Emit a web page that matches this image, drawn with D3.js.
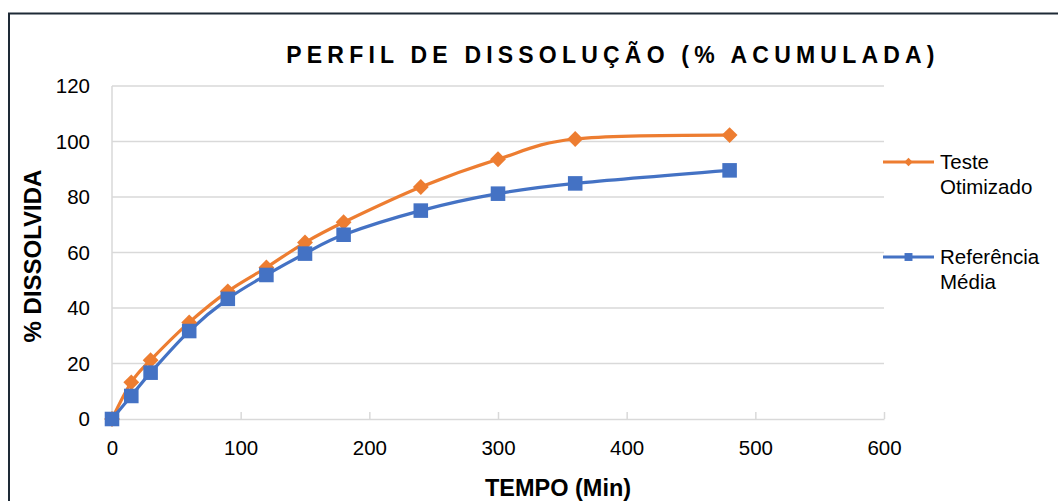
<!DOCTYPE html>
<html>
<head>
<meta charset="utf-8">
<script src="https://cdn.jsdelivr.net/npm/d3@7"></script>
<style>
  html, body { margin: 0; padding: 0; background: #ffffff; }
  svg { display: block; font-family: "Liberation Sans", Arial, sans-serif; }
</style>
</head>
<body>
<svg id="chart" width="1058" height="501"></svg>
<script>
// Dissolution profile: cumulative % dissolved over time (minutes)
const times = [0, 15, 30, 60, 90, 120, 150, 180, 240, 300, 360, 480];
const testeOtimizado = [0, 13.2, 21.2, 34.8, 46.0, 54.6, 63.6, 70.9, 83.6, 93.6, 100.9, 102.3];
const referenciaMedia = [0, 8.3, 16.7, 31.7, 43.3, 51.9, 59.6, 66.4, 75.1, 81.2, 84.9, 89.6];
const xTicks = [0, 100, 200, 300, 400, 500, 600];
const yTicks = [0, 20, 40, 60, 80, 100, 120];
const seriesNames = [["Teste", "Otimizado"], ["Referência", "Média"]];
const seriesColors = ["#ED7D31", "#4472C4"];

const svg = d3.select("#chart");

// outer frame (top and left edges visible)
svg.append("path")
  .attr("d", "M9,1058 V13.5 H1058")
  .attr("fill", "none")
  .attr("stroke", "#1e2a36")
  .attr("stroke-width", 2);

const plot = { left: 112, right: 884, top: 86, bottom: 419 };

const x = d3.scaleLinear().domain([0, 600]).range([plot.left, plot.right]);
const y = d3.scaleLinear().domain([0, 120]).range([plot.bottom, plot.top]);

// horizontal gridlines
svg.append("g")
  .selectAll("line")
  .data(yTicks.filter(d => d > 0))
  .join("line")
  .attr("x1", plot.left).attr("x2", plot.right)
  .attr("y1", d => y(d)).attr("y2", d => y(d))
  .attr("stroke", "#d9d9d9").attr("stroke-width", 1.5);

// y axis line
svg.append("line")
  .attr("x1", plot.left).attr("x2", plot.left)
  .attr("y1", plot.top).attr("y2", plot.bottom)
  .attr("stroke", "#d9d9d9").attr("stroke-width", 1.5);

// x axis with inside ticks
const xAxis = svg.append("g")
  .attr("transform", `translate(0,${plot.bottom})`)
  .call(d3.axisBottom(x).tickValues(xTicks).tickSizeInner(-7).tickSizeOuter(0).tickPadding(21));
xAxis.select(".domain").attr("stroke", "#d9d9d9").attr("stroke-width", 1.5);
xAxis.selectAll(".tick line").attr("stroke", "#d9d9d9").attr("stroke-width", 1.5);
xAxis.selectAll(".tick text")
  .attr("font-size", 20.5).attr("fill", "#000")
  .attr("font-family", "Liberation Sans, Arial, sans-serif");

// y axis labels
const yAxis = svg.append("g")
  .attr("transform", `translate(${plot.left},0)`)
  .call(d3.axisLeft(y).tickValues(yTicks).tickSize(0).tickPadding(22));
yAxis.select(".domain").remove();
yAxis.selectAll(".tick text")
  .attr("font-size", 20.5).attr("fill", "#000")
  .attr("font-family", "Liberation Sans, Arial, sans-serif");

// title
svg.append("text")
  .attr("x", 613).attr("y", 63)
  .attr("text-anchor", "middle")
  .attr("font-size", 23).attr("font-weight", "bold")
  .attr("letter-spacing", 5.2)
  .text("PERFIL DE DISSOLUÇÃO (% ACUMULADA)");

// axis titles
svg.append("text")
  .attr("x", 558).attr("y", 496)
  .attr("text-anchor", "middle")
  .attr("font-size", 23.5).attr("font-weight", "bold")
  .text("TEMPO (Min)");

svg.append("text")
  .attr("transform", "translate(41,256) rotate(-90)")
  .attr("text-anchor", "middle")
  .attr("font-size", 24).attr("font-weight", "bold")
  .text("% DISSOLVIDA");

// series
const line = d3.line()
  .x(d => x(d[0])).y(d => y(d[1]))
  .curve(d3.curveCardinal.tension(0));

const allSeries = [testeOtimizado, referenciaMedia].map(vals => times.map((t, i) => [t, vals[i]]));

const diamond = d3.symbol().type(d3.symbolDiamond2);
const square = d3.symbol().type(d3.symbolSquare2);

allSeries.forEach((pts, si) => {
  svg.append("path")
    .datum(pts)
    .attr("d", line)
    .attr("fill", "none")
    .attr("stroke", seriesColors[si])
    .attr("stroke-width", 3.2);
});

// orange diamonds
svg.append("g").selectAll("path")
  .data(allSeries[0]).join("path")
  .attr("transform", d => `translate(${x(d[0])},${y(d[1])})`)
  .attr("d", diamond.size(160)())
  .attr("fill", seriesColors[0]);

// blue squares
svg.append("g").selectAll("path")
  .data(allSeries[1]).join("path")
  .attr("transform", d => `translate(${x(d[0])},${y(d[1])})`)
  .attr("d", square.size(270)())
  .attr("fill", seriesColors[1]);

// legend
const legendY = [162, 257];
seriesNames.forEach((names, i) => {
  const g = svg.append("g").attr("transform", `translate(883,${legendY[i]})`);
  g.append("line").attr("x1", 0).attr("x2", 51).attr("y1", 0).attr("y2", 0)
    .attr("stroke", seriesColors[i]).attr("stroke-width", 3.2);
  g.append("path")
    .attr("transform", "translate(25.5,0)")
    .attr("d", (i === 0 ? diamond.size(45) : square.size(80))())
    .attr("fill", seriesColors[i]);
  names.forEach((n, j) => {
    g.append("text")
      .attr("x", 57).attr("y", 7 + j * 24.5)
      .attr("font-size", 20.5).attr("fill", "#000")
      .text(n);
  });
});
</script>
</body>
</html>
